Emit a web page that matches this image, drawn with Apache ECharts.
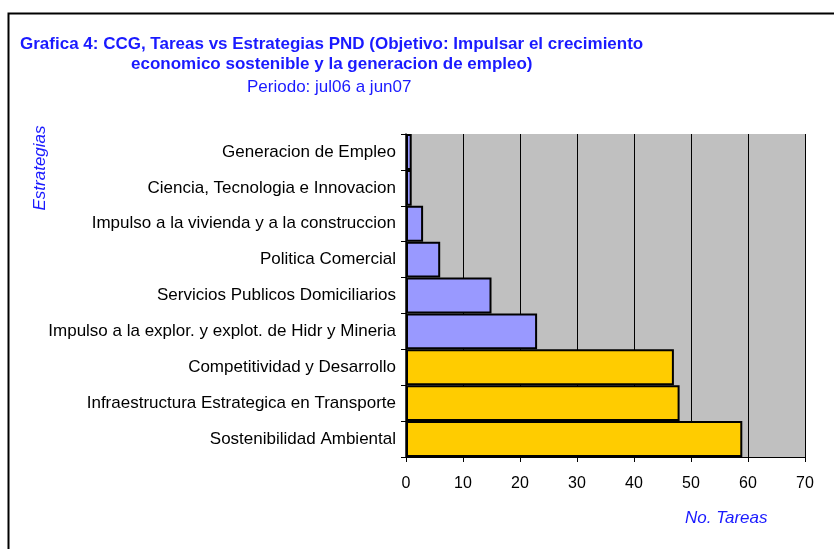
<!DOCTYPE html>
<html>
<head>
<meta charset="utf-8">
<script src="https://cdn.jsdelivr.net/npm/echarts@6/dist/echarts.min.js"></script>
<style>
  html, body { margin: 0; padding: 0; background: #fff; }
  #chart { width: 834px; height: 549px; }
</style>
</head>
<body>
<div id="chart"></div>
<script>
// estrategias, de arriba hacia abajo
const categories = [
  'Generacion de Empleo',
  'Ciencia, Tecnologia e Innovacion',
  'Impulso a la vivienda y a la construccion',
  'Politica Comercial',
  'Servicios Publicos Domiciliarios',
  'Impulso a la explor. y explot. de Hidr y Mineria',
  'Competitividad y Desarrollo',
  'Infraestructura Estrategica en Transporte',
  'Sostenibilidad Ambiental'
]
const tareas = [1, 1, 3, 6, 15, 23, 47, 48, 59]
const xTicks = [0, 10, 20, 30, 40, 50, 60, 70]

const font = 'Arial, "Liberation Sans", sans-serif'
const blue = '#1a1aff'

const chart = echarts.init(document.getElementById('chart'))
chart.setOption({
  animation: false,
  backgroundColor: '#fff',
  grid: {
    left: 406,
    right: 29,
    top: 134,
    bottom: 92,
    show: true,
    backgroundColor: '#c0c0c0',
    borderWidth: 0
  },
  xAxis: {
    type: 'value',
    min: xTicks[0],
    max: xTicks[xTicks.length - 1],
    interval: 10,
    axisLine: { show: true, lineStyle: { color: '#000', width: 1 } },
    axisTick: { show: true, length: 5, lineStyle: { color: '#000' } },
    axisLabel: { color: '#000', fontSize: 16, fontFamily: font, margin: 19 },
    splitLine: { show: true, lineStyle: { color: '#000', width: 1 } }
  },
  yAxis: {
    type: 'category',
    inverse: true,
    data: categories,
    axisLine: { show: true, lineStyle: { color: '#000', width: 1.5 } },
    axisTick: { show: true, length: 5, lineStyle: { color: '#000' } },
    axisLabel: { color: '#000', fontSize: 17, fontFamily: font, margin: 10 }
  },
  series: [{
    type: 'bar',
    data: tareas,
    barWidth: '100%',
    itemStyle: {
      color: p => (p.dataIndex < 6 ? '#9999ff' : '#ffcc00'),
      borderColor: '#000',
      borderWidth: 2
    }
  }],
  graphic: [
    {
      type: 'rect', left: 6, top: 11, silent: true,
      shape: { width: 900, height: 600 },
      style: { fill: 'none', stroke: '#000', lineWidth: 2 }
    },
    {
      type: 'text', left: 20, top: 36,
      style: { text: 'Grafica 4: CCG, Tareas vs Estrategias PND (Objetivo: Impulsar el crecimiento', fill: blue, font: 'bold 17px ' + font }
    },
    {
      type: 'text', left: 131, top: 56,
      style: { text: 'economico sostenible y la generacion de empleo)', fill: blue, font: 'bold 17px ' + font }
    },
    {
      type: 'text', left: 247, top: 79,
      style: { text: 'Periodo: jul06 a jun07', fill: blue, font: '17px ' + font }
    },
    {
      type: 'text', left: 685, top: 510,
      style: { text: 'No. Tareas', fill: blue, font: 'italic 17px ' + font }
    },
    {
      type: 'text', x: 40, y: 168, rotation: Math.PI / 2,
      style: { text: 'Estrategias', fill: blue, font: 'italic 17px ' + font, align: 'center', verticalAlign: 'middle' }
    }
  ]
})
</script>
</body>
</html>
